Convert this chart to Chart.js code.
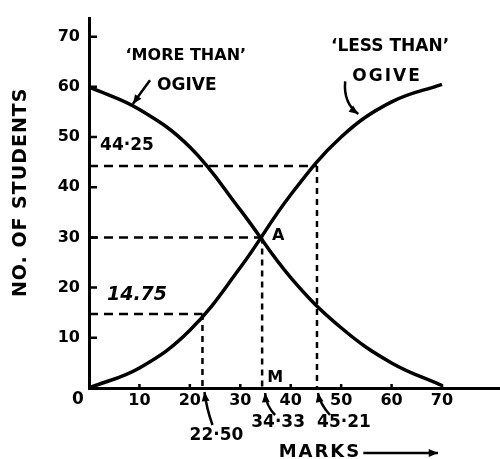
<!DOCTYPE html>
<html>
<head>
<meta charset="utf-8">
<script src="https://cdn.jsdelivr.net/npm/chart.js@4/dist/chart.umd.min.js"></script>
<style>
  html, body { margin: 0; padding: 0; background: #fff; }
  #wrap { width: 500px; height: 459px; }
</style>
</head>
<body>
<div id="wrap"><canvas id="ogive"></canvas></div>
<script>
const marks = [0, 10, 20, 30, 40, 50, 60, 70];
const lessThan = [0, 4, 11.5, 24, 38.5, 50, 57, 60.5];
const moreThan = [60, 55.5, 48, 35.5, 22, 12, 5, 0.5];

// quartiles and median marked on the graph
const q1Mark = 22.50, q1Count = 14.75;
const medianMark = 34.33, medianCount = 30;
const q3Mark = 45.21, q3Count = 44.25;

const xTickValues = [10, 20, 30, 40, 50, 60, 70];
const yTickValues = [10, 20, 30, 40, 50, 60, 70];

const FONT = "'DejaVu Sans', sans-serif";

function curve(ys) {
    return {
        data: marks.map((m, i) => ({x: m, y: ys[i]})),
        showLine: true,
        borderColor: "#000",
        borderWidth: 3.5,
        pointRadius: 0,
        tension: 0.4,
        fill: false
    };
}

function dashed(points, dash) {
    return {
        data: points,
        showLine: true,
        borderColor: "#000",
        borderWidth: 2.5,
        borderDash: dash,
        pointRadius: 0,
        tension: 0,
        fill: false
    };
}

// horizontal dashes from the y axis to the curve, then dotted down to the x axis
function guides(mark, count) {
    return [
        dashed([{x: 0, y: count}, {x: mark, y: count}], [9, 6]),
        dashed([{x: mark, y: count}, {x: mark, y: 0}], [6, 5])
    ];
}

function text(ctx, str, x, y, size, style) {
    ctx.font = (style || "bold") + " " + size + "px " + FONT;
    ctx.textAlign = "center";
    ctx.textBaseline = "middle";
    ctx.fillText(str, x, y);
}

function arrow(ctx, x0, y0, cx, cy, x1, y1) {
    ctx.lineWidth = 2.5;
    ctx.beginPath();
    ctx.moveTo(x0, y0);
    ctx.quadraticCurveTo(cx, cy, x1, y1);
    ctx.stroke();
    const a = Math.atan2(y1 - cy, x1 - cx);
    ctx.beginPath();
    ctx.moveTo(x1, y1);
    ctx.lineTo(x1 - 10 * Math.cos(a - 0.4), y1 - 10 * Math.sin(a - 0.4));
    ctx.lineTo(x1 - 10 * Math.cos(a + 0.4), y1 - 10 * Math.sin(a + 0.4));
    ctx.closePath();
    ctx.fill();
}

const annotate = {
    id: "annotate",
    afterDraw(chart) {
        const {ctx, chartArea: area, scales: {x, y}} = chart;
        const px = v => x.getPixelForValue(v), py = v => y.getPixelForValue(v);
        const bottom = area.bottom;
        ctx.save();
        ctx.fillStyle = "#000";
        ctx.strokeStyle = "#000";

        // tick marks on the inner side of the axes
        ctx.lineWidth = 2.5;
        ctx.beginPath();
        yTickValues.forEach(v => { ctx.moveTo(area.left, py(v)); ctx.lineTo(area.left + 8, py(v)); });
        xTickValues.forEach(v => { ctx.moveTo(px(v), bottom); ctx.lineTo(px(v), bottom - 4); });
        ctx.stroke();

        // y title
        ctx.save();
        ctx.translate(21, (area.top + bottom) / 2 - 11);
        ctx.rotate(-Math.PI / 2);
        ctx.letterSpacing = "1px";
        text(ctx, "NO. OF STUDENTS", 0, 0, 19);
        ctx.restore();

        text(ctx, "0", px(0) - 11, bottom + 12, 17);

        // curve names
        text(ctx, "\u2018MORE THAN\u2019", px(19.2), py(66.1), 16);
        text(ctx, "OGIVE", px(19.4), py(60.2), 17);
        text(ctx, "\u2018LESS THAN\u2019", px(59.7), py(68), 17);
        ctx.letterSpacing = "2px";
        text(ctx, "OGIVE", px(59.1), py(62.1), 17);
        ctx.letterSpacing = "0px";
        arrow(ctx, px(12.1), py(61.3), px(10.4), py(59), px(8.7), py(56.6));
        arrow(ctx, px(50.8), py(61.1), px(50.4), py(56.8), px(53.4), py(54.6));

        // values on the dashed guides
        text(ctx, "44\u00b725", px(0) + 38, py(q3Count) - 20, 17);
        text(ctx, "14.75", px(0) + 48, py(q1Count) - 19, 19, "italic bold");
        text(ctx, "A", px(medianMark) + 16, py(medianCount) - 2, 16);
        text(ctx, "M", px(medianMark) + 13, bottom - 10, 16);

        // marks
        text(ctx, "22\u00b750", px(q1Mark) + 14, bottom + 48, 17);
        text(ctx, "34\u00b733", px(medianMark) + 16, bottom + 35, 17);
        text(ctx, "45\u00b721", px(q3Mark) + 27, bottom + 35, 17);
        arrow(ctx, px(q1Mark) + 10, bottom + 37, px(q1Mark) + 4, bottom + 20, px(q1Mark) + 2, bottom + 4);
        arrow(ctx, px(medianMark) + 13, bottom + 27, px(medianMark) + 4, bottom + 18, px(medianMark) + 3, bottom + 5);
        arrow(ctx, px(q3Mark) + 13, bottom + 27, px(q3Mark) + 3, bottom + 16, px(q3Mark) + 1, bottom + 5);

        // x title with its arrow
        ctx.letterSpacing = "2px";
        text(ctx, "MARKS", px(45.8), bottom + 64, 18);
        ctx.letterSpacing = "0px";
        arrow(ctx, px(54.4), bottom + 65, px(61.8), bottom + 65, px(69.2), bottom + 65);

        ctx.restore();
    }
};

new Chart(document.getElementById("ogive"), {
    type: "scatter",
    data: {
        datasets: [
            curve(lessThan),
            curve(moreThan),
            ...guides(q1Mark, q1Count),
            ...guides(medianMark, medianCount),
            ...guides(q3Mark, q3Count)
        ]
    },
    options: {
        responsive: true,
        maintainAspectRatio: false,
        animation: false,
        layout: {padding: {top: 15, right: 0, bottom: 0, left: 0}},
        plugins: {legend: {display: false}, tooltip: {enabled: false}},
        scales: {
            x: {
                type: "linear",
                min: 0,
                max: 81.5,
                grid: {drawOnChartArea: false, drawTicks: false},
                border: {display: true, color: "#000", width: 3},
                ticks: {color: "#000", padding: 3, maxRotation: 0, autoSkip: false,
                        font: {family: FONT, size: 16, weight: "bold"}},
                afterBuildTicks: s => { s.ticks = xTickValues.map(v => ({value: v})); },
                afterFit: s => { s.height = 71; }
            },
            y: {
                type: "linear",
                min: 0,
                max: 73.6,
                grid: {drawOnChartArea: false, drawTicks: false},
                border: {display: true, color: "#000", width: 3},
                ticks: {color: "#000", padding: 9,
                        font: {family: FONT, size: 16, weight: "bold"}},
                afterBuildTicks: s => { s.ticks = yTickValues.map(v => ({value: v})); },
                afterFit: s => { s.width = 89; }
            }
        }
    },
    plugins: [annotate]
});
</script>
</body>
</html>
